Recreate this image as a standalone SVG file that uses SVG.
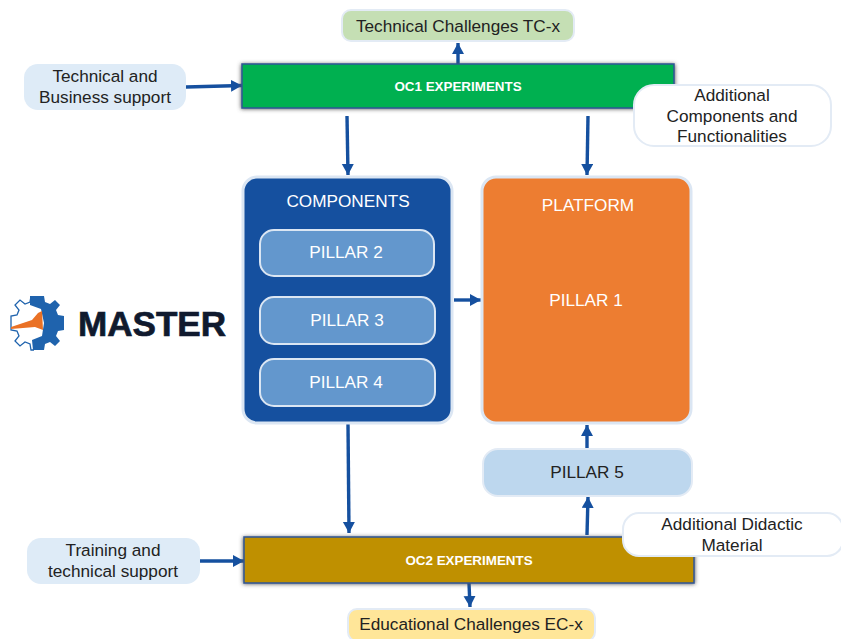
<svg xmlns="http://www.w3.org/2000/svg" width="841" height="639" viewBox="0 0 841 639">
<style>
text{font-family:"Liberation Sans",Arial,sans-serif;text-anchor:middle}
.d{font-size:17.2px;fill:#222}
.w{font-size:17.2px;fill:#fff}
.b{font-size:13.4px;font-weight:bold;fill:#fff}
.edge{fill:none;stroke:#15509f;stroke-width:3.4}
.box{stroke:#e3ebf5;stroke-width:2}
.pill{fill:#6397cd;stroke:#dbe6f3;stroke-width:2}
</style>
<defs>
<marker id="a" markerUnits="userSpaceOnUse" markerWidth="13" markerHeight="13" refX="11" refY="6" orient="auto"><path d="M0 0L11 6L0 12z" fill="#15509f"/></marker>
<filter id="s" x="-3%" y="-15%" width="106%" height="130%"><feGaussianBlur stdDeviation="2"/></filter>
</defs>
<rect width="841" height="639" fill="#fff"/>
<g id="connectors">
<path class="edge" d="M458 64V43" marker-end="url(#a)"/>
<path class="edge" d="M186 87L242 85.500" marker-end="url(#a)"/>
<path class="edge" d="M347 116L348 175" marker-end="url(#a)"/>
<path class="edge" d="M588 116L587 175" marker-end="url(#a)"/>
<path class="edge" d="M454 300H481" marker-end="url(#a)"/>
<path class="edge" d="M348 424L349 533" marker-end="url(#a)"/>
<path class="edge" d="M587 449V425" marker-end="url(#a)"/>
<path class="edge" d="M587 535L588 497" marker-end="url(#a)"/>
<path class="edge" d="M200 561H244" marker-end="url(#a)"/>
<path class="edge" d="M469 583L470 607" marker-end="url(#a)"/>
</g>
<g id="tc"><rect class="box" x="342" y="10" width="232" height="31" rx="9" fill="#c5dfb4"/><text class="d" x="458" y="32">Technical Challenges TC-x</text></g>
<g id="support1"><rect x="24" y="64" width="162" height="46" rx="14" fill="#deebf7"/><text class="d" x="105" y="82">Technical and</text><text class="d" x="105" y="103">Business support</text></g>
<g id="oc1"><rect x="241" y="64" width="434" height="45" fill="#555" filter="url(#s)"/><rect x="242" y="64" width="432" height="44" fill="#00b050" stroke="#2f5597" stroke-width="1.500"/><text class="b" x="458" y="91">OC1 EXPERIMENTS</text></g>
<g id="additional1"><rect class="box" x="634" y="85" width="197" height="61" rx="20" fill="#fff"/><text class="d" x="732" y="101">Additional</text><text class="d" x="732" y="122">Components and</text><text class="d" x="732" y="142">Functionalities</text></g>
<g id="components"><rect x="243" y="177" width="209" height="246" rx="14" fill="#15509f" stroke="#dbe6f3" stroke-width="3"/><text class="w" x="348" y="207">COMPONENTS</text></g>
<g id="pillar2"><rect class="pill" x="260" y="230" width="174" height="46" rx="14"/><text class="w" x="346" y="258">PILLAR 2</text></g>
<g id="pillar3"><rect class="pill" x="260" y="297" width="175" height="47" rx="14"/><text class="w" x="347" y="326">PILLAR 3</text></g>
<g id="pillar4"><rect class="pill" x="260" y="359" width="175" height="47" rx="14"/><text class="w" x="346" y="388">PILLAR 4</text></g>
<g id="platform"><rect x="482" y="177" width="209" height="246" rx="14" fill="#ed7d31" stroke="#dbe6f3" stroke-width="3"/><text class="w" x="588" y="211">PLATFORM</text><text class="w" x="586" y="306">PILLAR 1</text></g>
<g id="pillar5"><rect class="box" x="483" y="449" width="209" height="47" rx="15" fill="#bdd7ee"/><text class="d" x="587" y="478">PILLAR 5</text></g>
<g id="oc2"><rect x="243" y="537" width="452" height="47" fill="#555" filter="url(#s)"/><rect x="244" y="537" width="450" height="46" fill="#bf9000" stroke="#2f5597" stroke-width="1.500"/><text class="b" x="469" y="565">OC2 EXPERIMENTS</text></g>
<g id="additional2"><rect class="box" x="623" y="513" width="220" height="43" rx="16" fill="#fff"/><text class="d" x="732" y="530">Additional Didactic</text><text class="d" x="732" y="551">Material</text></g>
<g id="support2"><rect x="27" y="538" width="173" height="46" rx="14" fill="#deebf7"/><text class="d" x="113" y="556">Training and</text><text class="d" x="113" y="577">technical support</text></g>
<g id="ec"><rect class="box" x="348" y="609" width="247" height="32" rx="9" fill="#ffe699"/><text class="d" x="471" y="630">Educational Challenges EC-x</text></g>
<g id="logo">
<path d="M30 296H44l1 6 5 2 5-4 5 5-4 5 2 5 6 1v14l-6 1-2 5 4 5-5 5-5-4-5 2-1 6H33L32 340L42 336L44 323L41 309L30 305z" fill="#1f63ad"/>
<path d="M31 296l-1 6-5 2-5-4-5 5 4 5-2 5-6 1v14l6 1 2 5-4 5 5 5 5-4 5 2 1 6h3" fill="none" stroke="#1f63ad" stroke-width="1.300"/>
<path d="M11 327L32 320L38 313L42 311L43 330L35 327L11 329z" fill="#ea7125"/>
<text x="152" y="336" textLength="148" lengthAdjust="spacingAndGlyphs" style="font-size:35px;font-weight:bold;fill:#101a2e;stroke:#101a2e;stroke-width:.7">MASTER</text>
</g>
</svg>
